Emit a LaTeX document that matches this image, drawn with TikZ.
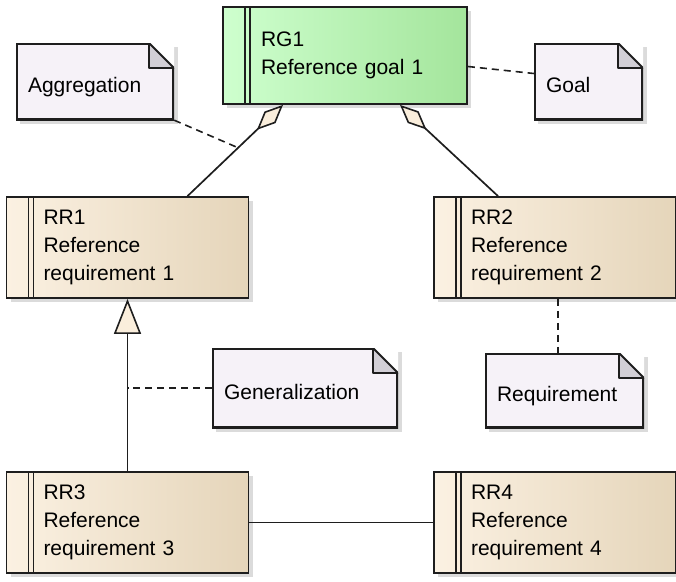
\documentclass[tikz,border=0pt]{standalone}
\usepackage{fontspec}
\setmainfont{Liberation Sans}
\usetikzlibrary{arrows.meta,shadows,positioning,calc}

\definecolor{goalleft}{RGB}{206,255,206}
\definecolor{goalright}{RGB}{164,229,156}
\definecolor{reqleft}{RGB}{251,241,226}
\definecolor{reqright}{RGB}{229,213,186}
\definecolor{notefill}{RGB}{246,242,248}
\definecolor{foldfill}{RGB}{210,207,214}
\definecolor{tipfill}{RGB}{250,238,220}
\definecolor{edge}{RGB}{30,30,30}

\begin{document}
\begin{tikzpicture}[x=1pt, y=-1pt,
    box/.style={rectangle, draw=edge, line width=1.8pt, text width=168pt, inner xsep=37pt,
        minimum height=101pt, align=left, font=\fontsize{21}{28}\selectfont,
        drop shadow={shadow xshift=4pt, shadow yshift=-4pt, fill=black!28},
        path picture={
            \draw[edge, line width=1.6pt] ([xshift=22pt]path picture bounding box.north west) -- ([xshift=22pt]path picture bounding box.south west);
            \draw[edge, line width=1.6pt] ([xshift=27pt]path picture bounding box.north west) -- ([xshift=27pt]path picture bounding box.south west);
        }},
    goalbox/.style={box, left color=goalleft, right color=goalright, minimum width=244pt, minimum height=97pt},
    reqbox/.style={box, left color=reqleft, right color=reqright},
    note/.style={rectangle, fill=notefill, text width=#1, inner xsep=12pt, inner ysep=0pt,
        text height=22pt, text depth=0pt, align=left, font=\fontsize{21}{28}\selectfont,
        drop shadow={shadow xshift=4pt, shadow yshift=-4pt, fill=black!28},
        path picture={
            \fill[white] ([xshift=-25pt]path picture bounding box.north east) -- (path picture bounding box.north east) -- ([yshift=-25pt]path picture bounding box.north east) -- cycle;
            \fill[foldfill] ([xshift=-25pt]path picture bounding box.north east) |- ([yshift=-25pt]path picture bounding box.north east) -- cycle;
            \draw[edge, line width=3.6pt] ([xshift=-25pt]path picture bounding box.north east) -- (path picture bounding box.north west)
                -- (path picture bounding box.south west) -- (path picture bounding box.south east) -- ([yshift=-25pt]path picture bounding box.north east);
            \draw[edge, line width=1.8pt, line join=round] ([yshift=-25pt]path picture bounding box.north east) -- ([xshift=-25pt]path picture bounding box.north east)
                |- ([yshift=-25pt]path picture bounding box.north east);
        }},
    aggregation/.style={edge, line width=1.7pt, -{Diamond[length=36pt, width=16pt, fill=tipfill, line width=1.6pt]}},
    generalization/.style={edge, line width=1.7pt, -{Triangle[length=35pt, width=27pt, fill=tipfill, line width=1.6pt]}},
    association/.style={edge, line width=1.7pt},
    notelink/.style={edge, line width=1.6pt, dash pattern=on 7pt off 5pt}
]
\useasboundingbox (0,0) rectangle (676,581);

% Goal
\node[goalbox] (rg1) at (345,55.5) {RG1\\Reference goal 1};

% Requirements
\node[reqbox] (rr1) at (127.5,247.5) {RR1\\Reference\\requirement 1};
\node[reqbox] (rr2) at (555,247.5) {RR2\\Reference\\requirement 2};
\node[reqbox] (rr3) at (127.5,522.5) {RR3\\Reference\\requirement 3};
\node[reqbox] (rr4) at (555,522.5) {RR4\\Reference\\requirement 4};

% Notes
\node[note=134pt, minimum height=77pt] (aggnote) at (95,81.5) {Aggregation};
\node[note=85pt, minimum height=77pt] (goalnote) at (588.5,81.5) {Goal};
\node[note=162pt, minimum height=80pt] (gennote) at (305,388) {Generalization};
\node[note=135pt, minimum height=75pt] (reqnote) at (564.5,390.5) {Requirement};

% Relationships
\draw[aggregation] ([xshift=60pt]rr1.north) -- coordinate[pos=0.53] (aggmid) ([xshift=-62pt]rg1.south);
\draw[aggregation] ([xshift=-57pt]rr2.north) -- ([xshift=55pt]rg1.south);
\draw[generalization] (rr3.north) -- (rr1.south);
\draw[association] (rr3.east) -- (rr4.west);

% Note links
\draw[notelink] (aggnote.south east) -- (aggmid);
\draw[notelink] ([yshift=-11pt]rg1.east) -- ([yshift=8pt]goalnote.west);
\draw[notelink] (gennote.west) -- (gennote.west -| rr3.north);
\draw[notelink] ([xshift=3pt]rr2.south) -- ([xshift=3pt]rr2.south |- reqnote.north);

\end{tikzpicture}
\end{document}
